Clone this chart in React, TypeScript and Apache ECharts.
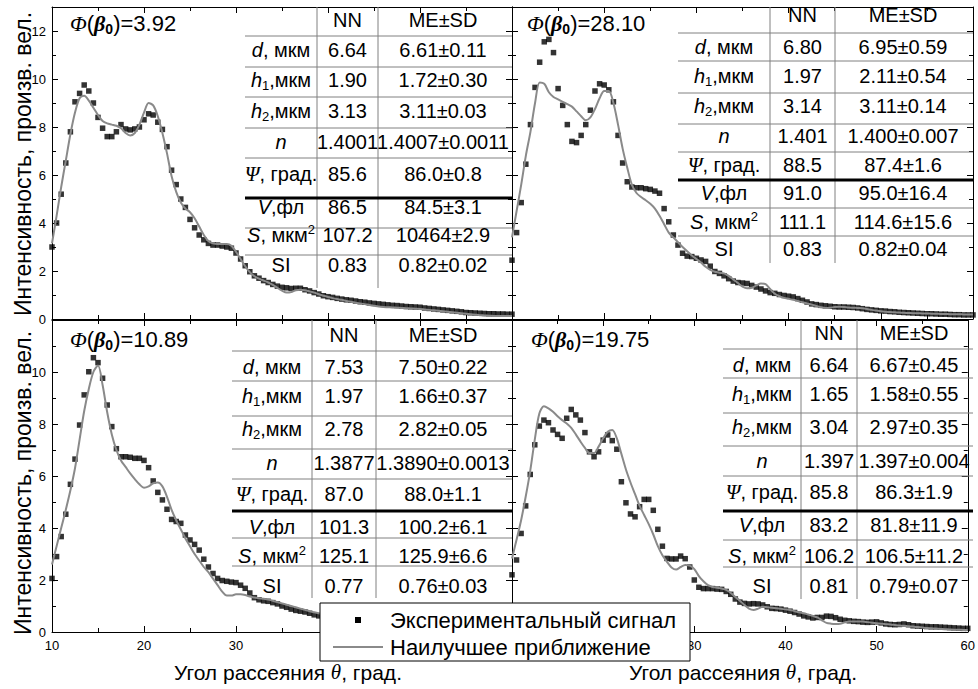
import React, { useEffect, useRef } from "react";
import * as echarts from "echarts";

const SANS = '"Liberation Sans", Arial, sans-serif';
const SERIF = '"Liberation Serif", "Times New Roman", serif';

// Scattering angles (deg)
const ANGLES = [
  10, 10.5, 11, 11.5, 12, 12.5, 13, 13.5, 14, 14.5,
  15, 15.5, 16, 16.5, 17, 17.5, 18, 18.5, 19, 19.5,
  20, 20.5, 21, 21.5, 22, 22.5, 23, 23.5, 24, 24.5,
  25, 25.5, 26, 26.5, 27, 27.5, 28, 28.5, 29, 29.5,
  30, 30.5, 31, 31.5, 32, 32.5, 33, 33.5, 34, 34.5,
  35, 35.5, 36, 36.5, 37, 37.5, 38, 38.5, 39, 39.5,
  40, 40.5, 41, 41.5, 42, 42.5, 43, 43.5, 44, 44.5,
  45, 45.5, 46, 46.5, 47, 47.5, 48, 48.5, 49, 49.5,
  50, 50.5, 51, 51.5, 52, 52.5, 53, 53.5, 54, 54.5,
  55, 55.5, 56, 56.5, 57, 57.5, 58, 58.5, 59, 59.5,
  60,
];

// Panel 1: Φ(β0)=3.92
const SIGNAL_1 = [
  3.0, 4.0, 5.2, 6.5, 7.8, 9.05, 9.4, 9.75, 9.5, 9.0,
  8.4, 7.95, 7.6, 7.6, 7.8, 8.1, 7.92, 7.88, 7.92, 8.0,
  8.3, 8.55, 8.5, 8.2, 7.9, 7.18, 6.2, 5.6, 5.0, 4.65,
  4.15, 3.8, 3.5, 3.3, 3.15, 3.08, 3.08, 3.04, 3.0, 2.95,
  2.75, 2.5, 2.22, 1.97, 1.8, 1.7, 1.6, 1.52, 1.44, 1.37,
  1.32, 1.3, 1.27, 1.28, 1.28, 1.22, 1.17, 1.1, 1.04, 0.97,
  0.93, 0.9, 0.86, 0.83, 0.8, 0.78, 0.75, 0.72, 0.7, 0.67,
  0.65, 0.63, 0.61, 0.59, 0.57, 0.56, 0.54, 0.52, 0.51, 0.5,
  0.49, 0.46, 0.44, 0.42, 0.4, 0.38, 0.36, 0.34, 0.32, 0.3,
  0.27, 0.26, 0.25, 0.24, 0.23, 0.22, 0.22, 0.21, 0.21, 0.2,
  0.2,
];
const FIT_1 = [
  3.15, 4.3, 5.5, 6.6, 7.7, 8.6, 9.2, 9.3, 9.1, 8.8,
  8.5, 8.25, 8.15, 8.1, 8.05, 7.95, 7.75, 7.65, 7.75, 8.1,
  8.6, 9.0, 8.9, 8.45, 7.75, 6.9, 5.95, 5.3, 4.85, 4.6,
  4.45, 4.2, 3.85, 3.5, 3.25, 3.15, 3.12, 3.12, 3.12, 3.05,
  2.8, 2.5, 2.2, 1.95, 1.78, 1.68, 1.6, 1.52, 1.42, 1.3,
  1.18, 1.1, 1.12, 1.2, 1.22, 1.2, 1.15, 1.1, 1.03, 0.97,
  0.92, 0.87, 0.83, 0.8, 0.75, 0.72, 0.68, 0.65, 0.62, 0.58,
  0.55, 0.52, 0.5, 0.49, 0.48, 0.47, 0.46, 0.45, 0.44, 0.43,
  0.42, 0.4, 0.38, 0.36, 0.34, 0.32, 0.3, 0.28, 0.26, 0.24,
  0.22, 0.2, 0.18, 0.16, 0.15, 0.14, 0.13, 0.12, 0.12, 0.12,
  0.12,
];

// Panel 2: Φ(β0)=28.10
const SIGNAL_2 = [
  2.45, 3.6, 4.85, 6.45, 8.1, 9.65, 10.7, 11.55, 11.65, 11.1,
  9.6, 8.9, 8.1, 7.4, 7.35, 7.65, 8.1, 8.7, 9.5, 9.8,
  9.75, 9.55, 9.05, 7.65, 6.5, 5.72, 5.5, 5.47, 5.47, 5.43,
  5.4, 5.33, 5.24, 4.6, 4.05, 3.5, 3.08, 2.74, 2.62, 2.6,
  2.53, 2.46, 2.4, 2.2, 1.98, 1.9, 1.8, 1.68, 1.58, 1.52,
  1.5, 1.48, 1.4, 1.33, 1.25, 1.17, 1.1, 1.07, 1.02, 0.98,
  0.95, 0.92, 0.85, 0.78, 0.71, 0.63, 0.6, 0.57, 0.55, 0.53,
  0.51, 0.5, 0.5, 0.49, 0.48, 0.46, 0.43, 0.4, 0.38, 0.36,
  0.34, 0.33, 0.31, 0.3, 0.28, 0.27, 0.26, 0.25, 0.24, 0.23,
  0.22, 0.22, 0.21, 0.2, 0.2, 0.19, 0.18, 0.18, 0.17, 0.17,
  0.17,
];
const FIT_2 = [
  3.4, 4.5, 5.6, 6.8, 7.8, 9.0, 9.85, 9.8, 9.45, 9.25,
  9.15, 9.05, 8.95, 8.85, 8.65, 8.45, 8.28, 8.4, 8.75, 9.2,
  9.5, 9.5, 9.0, 8.1, 7.1, 6.3, 5.6, 5.25, 5.08, 4.95,
  4.8, 4.6, 4.3, 3.95, 3.6, 3.4, 3.2, 3.0, 2.82, 2.65,
  2.5, 2.35, 2.18, 2.05, 1.97, 1.93, 1.9, 1.8, 1.65, 1.5,
  1.35, 1.28, 1.3, 1.4, 1.48, 1.45, 1.25, 1.05, 0.95, 0.88,
  0.84, 0.8, 0.75, 0.7, 0.65, 0.6, 0.54, 0.49, 0.46, 0.47,
  0.5, 0.51, 0.5, 0.48, 0.47, 0.46, 0.45, 0.42, 0.38, 0.35,
  0.32, 0.3, 0.29, 0.28, 0.27, 0.26, 0.25, 0.24, 0.24, 0.23,
  0.23, 0.22, 0.22, 0.21, 0.21, 0.2, 0.2, 0.2, 0.19, 0.19,
  0.19,
];

// Panel 3: Φ(β0)=10.89
const SIGNAL_3 = [
  2.06, 2.9, 3.67, 4.53, 5.68, 6.65, 7.96, 9.12, 10.01, 10.55,
  10.36, 9.76, 8.73, 7.9, 7.05, 6.74, 6.74, 6.72, 6.68, 6.68,
  6.6, 6.32, 5.81, 5.37, 5.08, 4.72, 4.33, 4.25, 4.18, 3.73,
  3.54, 3.37, 3.15, 2.8, 2.5, 2.25, 2.06, 1.98, 1.95, 1.92,
  1.9, 1.8, 1.68, 1.5, 1.32, 1.24, 1.2, 1.18, 1.13, 1.08,
  1.0, 0.95, 0.88, 0.83, 0.8, 0.77, 0.72, 0.66, 0.62, 0.6,
  0.58, 0.55, 0.53, 0.51, 0.49, 0.47, 0.45, 0.43, 0.41, 0.39,
  0.37, 0.35, 0.33, 0.32, 0.31, 0.3, 0.29, 0.28, 0.27, 0.26,
  0.25, 0.24, 0.23, 0.22, 0.21, 0.2, 0.19, 0.19, 0.18, 0.18,
  0.17, 0.17, 0.16, 0.16, 0.15, 0.15, 0.14, 0.14, 0.13, 0.13,
  0.12,
];
const FIT_3 = [
  2.6, 3.3, 4.0, 4.7, 5.45, 6.3, 7.4, 8.5, 9.35, 10.0,
  10.25, 9.5, 8.45, 7.6, 7.0, 6.6, 6.35, 6.1, 5.88, 5.68,
  5.55, 5.6, 5.72, 5.75, 5.6, 5.2, 4.7, 4.3, 3.95, 3.6,
  3.3, 3.0, 2.75, 2.5, 2.3, 2.05, 1.8, 1.55, 1.4, 1.4,
  1.45, 1.45, 1.42, 1.36, 1.33, 1.3, 1.28, 1.25, 1.2, 1.15,
  1.1, 1.05, 1.0, 0.95, 0.9, 0.85, 0.8, 0.76, 0.72, 0.68,
  0.65, 0.62, 0.59, 0.56, 0.53, 0.5, 0.48, 0.46, 0.44, 0.42,
  0.4, 0.38, 0.36, 0.34, 0.32, 0.3, 0.28, 0.27, 0.26, 0.25,
  0.24, 0.23, 0.22, 0.21, 0.2, 0.19, 0.18, 0.17, 0.16, 0.15,
  0.14, 0.13, 0.13, 0.12, 0.12, 0.11, 0.11, 0.1, 0.1, 0.1,
  0.1,
];

// Panel 4: Φ(β0)=19.75
const SIGNAL_4 = [
  2.2, 2.77, 3.79, 4.85, 6.06, 7.2, 7.92, 8.15, 8.05, 7.77,
  7.6, 7.45, 8.22, 8.56, 8.35, 8.15, 7.67, 6.93, 6.74, 6.93,
  7.38, 7.58, 7.36, 7.03, 5.78, 4.97, 4.54, 4.43, 4.82, 5.1,
  5.1, 4.68, 3.95, 3.3, 2.83, 2.81, 2.81, 2.92, 2.82, 2.5,
  2.0, 1.72, 1.67, 1.67, 1.67, 1.65, 1.64, 1.56, 1.45, 1.27,
  1.15, 1.1, 1.08, 1.09, 1.08, 1.04, 0.97, 0.91, 0.9, 0.88,
  0.84, 0.8, 0.75, 0.69, 0.62, 0.58, 0.54, 0.56, 0.56, 0.61,
  0.6, 0.55, 0.49, 0.45, 0.43, 0.41, 0.4, 0.38, 0.37, 0.38,
  0.39, 0.35, 0.31, 0.29, 0.28, 0.29, 0.31, 0.28, 0.24, 0.23,
  0.22, 0.21, 0.2, 0.2, 0.19, 0.18, 0.17, 0.16, 0.15, 0.14,
  0.14,
];
const FIT_4 = [
  2.83, 3.55, 4.3, 5.2, 6.2, 7.4, 8.4, 8.68, 8.6, 8.47,
  8.3, 8.15, 8.02, 7.85, 7.6, 7.33, 7.08, 6.88, 6.88, 7.13,
  7.45, 7.7, 7.77, 7.45, 6.85, 6.25, 5.75, 5.3, 4.85, 4.5,
  4.15, 3.75, 3.3, 2.95, 2.7, 2.48, 2.4, 2.5, 2.58, 2.55,
  2.42, 2.15, 1.95, 1.8, 1.73, 1.7, 1.67, 1.62, 1.5, 1.35,
  1.2, 1.04, 0.9, 0.85, 0.9, 0.97, 0.95, 0.93, 0.91, 0.89,
  0.87, 0.85, 0.8, 0.76, 0.72, 0.67, 0.62, 0.56, 0.45, 0.35,
  0.32, 0.31, 0.32, 0.37, 0.4, 0.4, 0.4, 0.4, 0.38, 0.36,
  0.34, 0.32, 0.3, 0.29, 0.27, 0.25, 0.24, 0.22, 0.21, 0.19,
  0.17, 0.15, 0.14, 0.13, 0.12, 0.11, 0.1, 0.09, 0.09, 0.08,
  0.08,
];

const PHI_VALUES = ["3.92", "28.10", "10.89", "19.75"];

const ROW_LABELS = [
  "{i|d}, мкм",
  "{i|h}{sub|1},мкм",
  "{i|h}{sub|2},мкм",
  "{i|n}",
  "{ps|Ψ}, град.",
  "{i|V},фл",
  "{i|S}, мкм{sup|2}",
  "SI",
];
const HEADER_NN = "NN";
const HEADER_ME = "ME±SD";

const NN_1 = ["6.64", "1.90", "3.13", "1.4001", "85.6", "86.5", "107.2", "0.83"];
const ME_1 = ["6.61±0.11", "1.72±0.30", "3.11±0.03", "1.4007±0.0011", "86.0±0.8", "84.5±3.1", "10464±2.9", "0.82±0.02"];
const NN_2 = ["6.80", "1.97", "3.14", "1.401", "88.5", "91.0", "111.1", "0.83"];
const ME_2 = ["6.95±0.59", "2.11±0.54", "3.11±0.14", "1.400±0.007", "87.4±1.6", "95.0±16.4", "114.6±15.6", "0.82±0.04"];
const NN_3 = ["7.53", "1.97", "2.78", "1.3877", "87.0", "101.3", "125.1", "0.77"];
const ME_3 = ["7.50±0.22", "1.66±0.37", "2.82±0.05", "1.3890±0.0013", "88.0±1.1", "100.2±6.1", "125.9±6.6", "0.76±0.03"];
const NN_4 = ["6.64", "1.65", "3.04", "1.397", "85.8", "83.2", "106.2", "0.81"];
const ME_4 = ["6.67±0.45", "1.58±0.55", "2.97±0.35", "1.397±0.004", "86.3±1.9", "81.8±11.9", "106.5±11.2", "0.79±0.07"];

// x tick labels visible in each lower panel (the rest sit under the legend)
const X_TICKS_LEFT = [10, 20, 30];
const X_TICKS_RIGHT = [30, 40, 50, 60];

const Y_TITLE = "Интенсивность, произв. вел.";
const X_TITLE = "Угол рассеяния {th|θ}, град.";
const LEGEND_SIGNAL = "Экспериментальный сигнал";
const LEGEND_FIT = "Наилучшее приближение";

const FIT_COLOR = "#8a8a8a";

const PANELS = [
  {
    left: 52, top: 7, width: 460, height: 312, yMax: 13, yLabelMax: 12, xTicks: [] as number[], yLabels: true,
    sig: SIGNAL_1, fit: FIT_1, phi: PHI_VALUES[0], phiX: 70, phiY: 23, nn: NN_1, me: ME_1,
    tbl: { x0: 245, c1: 317, c2: 378, x3: 512, mec: 443, top: 7, bottom: 288, lines: [36, 67, 97, 128, 158, 198, 228, 255], rows: [20, 50, 80, 111, 142, 174, 207, 235, 265] },
  },
  {
    left: 512, top: 7, width: 461, height: 312, yMax: 13, yLabelMax: 12, xTicks: [] as number[], yLabels: false,
    sig: SIGNAL_2, fit: FIT_2, phi: PHI_VALUES[1], phiX: 527, phiY: 23, nn: NN_2, me: ME_2,
    tbl: { x0: 678, c1: 770, c2: 835, x3: 973, mec: 903, top: 7, bottom: 263, lines: [33, 61, 93, 124, 152, 180, 208, 236], rows: [15, 47, 76, 106, 136, 165, 193, 222, 249] },
  },
  {
    left: 52, top: 320, width: 460, height: 312, yMax: 12, yLabelMax: 10, xTicks: X_TICKS_LEFT, yLabels: true,
    sig: SIGNAL_3, fit: FIT_3, phi: PHI_VALUES[2], phiX: 70, phiY: 339, nn: NN_3, me: ME_3,
    tbl: { x0: 232, c1: 312, c2: 376, x3: 512, mec: 443, top: 320, bottom: 598, lines: [351, 381, 416, 449, 479, 511, 538, 566], rows: [335, 367, 396, 429, 463, 494, 527, 556, 586] },
  },
  {
    left: 512, top: 320, width: 461, height: 312, yMax: 12, yLabelMax: 10, xTicks: X_TICKS_RIGHT, yLabels: false,
    sig: SIGNAL_4, fit: FIT_4, phi: PHI_VALUES[3], phiX: 531, phiY: 339, nn: NN_4, me: ME_4,
    tbl: { x0: 723, c1: 801, c2: 857, x3: 973, mec: 914, top: 320, bottom: 599, lines: [349, 378, 413, 446, 476, 511, 540, 567], rows: [333, 365, 394, 427, 461, 492, 525, 556, 586] },
  },
];

const TABLE_FONT = 20;
const TABLE_RICH = {
  i: { fontFamily: SANS, fontStyle: "italic", fontSize: TABLE_FONT, lineHeight: 26, fill: "#000" },
  ps: { fontFamily: SERIF, fontStyle: "italic", fontSize: 21, lineHeight: 26, fill: "#000" },
  sub: { fontFamily: SANS, fontSize: 13, padding: [11, 0, 0, 0], fill: "#000" },
  sup: { fontFamily: SANS, fontSize: 13, padding: [0, 0, 11, 0], fill: "#000" },
};
const PHI_RICH = {
  phi: { fontFamily: SERIF, fontStyle: "italic", fontSize: 22, lineHeight: 28, fill: "#000" },
  b: { fontFamily: SERIF, fontStyle: "italic", fontWeight: "bold", fontSize: 22, lineHeight: 28, fill: "#000" },
  s: { fontFamily: SANS, fontWeight: "bold", fontSize: 14, padding: [12, 0, 0, 0], fill: "#000" },
  t: { fontFamily: SANS, fontSize: 22, lineHeight: 28, fill: "#000" },
};

function txt(x: number, y: number, text: string) {
  return {
    type: "text",
    x,
    y,
    z: 60,
    silent: true,
    style: {
      text,
      fill: "#000",
      fontFamily: SANS,
      fontSize: TABLE_FONT,
      lineHeight: 26,
      align: "center",
      verticalAlign: "middle",
      rich: TABLE_RICH,
    },
  };
}

function hline(x1: number, x2: number, y: number, color: string, w: number) {
  return { type: "line", z: 55, silent: true, shape: { x1, y1: y, x2, y2: y }, style: { stroke: color, lineWidth: w } };
}
function vline(x: number, y1: number, y2: number, color: string, w: number) {
  return { type: "line", z: 55, silent: true, shape: { x1: x, y1, x2: x, y2 }, style: { stroke: color, lineWidth: w } };
}

function buildOption() {
  const grid: any[] = [];
  const xAxis: any[] = [];
  const yAxis: any[] = [];
  const series: any[] = [];
  const elements: any[] = [];
  const line = { color: "#000", width: 1 };

  PANELS.forEach((p, i) => {
    grid.push({ left: p.left, top: p.top, width: p.width, height: p.height });
    const baseX = {
      type: "value", gridIndex: i, min: 10, max: 60, interval: 10,
      axisLine: { show: true, onZero: false, lineStyle: line },
      axisTick: { show: true, inside: true, length: 6, lineStyle: line },
      minorTick: { show: true, splitNumber: 2, length: 4, lineStyle: line },
      splitLine: { show: false },
    };
    xAxis.push({
      ...baseX, position: "bottom",
      axisLabel: {
        show: p.xTicks.length > 0, color: "#000", fontSize: 13, fontFamily: SANS, margin: 7,
        showMinLabel: true, showMaxLabel: true,
        formatter: (v: number) => (p.xTicks.indexOf(v) >= 0 ? String(v) : ""),
      },
    });
    xAxis.push({ ...baseX, position: "top", axisLabel: { show: false } });
    const baseY = {
      type: "value", gridIndex: i, min: 0, max: p.yMax, interval: 2,
      axisLine: { show: true, onZero: false, lineStyle: line },
      axisTick: { show: true, inside: true, length: 6, lineStyle: line },
      minorTick: { show: true, splitNumber: 2, length: 4, lineStyle: line },
      splitLine: { show: false },
    };
    yAxis.push({
      ...baseY, position: "left",
      axisLabel: {
        show: p.yLabels, color: "#000", fontSize: 13, fontFamily: SANS, margin: 6,
        formatter: (v: number) => (v > p.yLabelMax ? "" : String(v)),
      },
    });
    yAxis.push({ ...baseY, position: "right", axisLabel: { show: false } });

    series.push({
      type: "scatter", name: LEGEND_SIGNAL, xAxisIndex: 2 * i, yAxisIndex: 2 * i,
      data: ANGLES.map((a, k) => [a, p.sig[k]]),
      symbol: "rect", symbolSize: 5.5, itemStyle: { color: "#000" }, z: 2, silent: true,
    });
    series.push({
      type: "line", name: LEGEND_FIT, xAxisIndex: 2 * i, yAxisIndex: 2 * i,
      data: ANGLES.map((a, k) => [a, p.fit[k]]),
      showSymbol: false, smooth: 0.3, lineStyle: { color: FIT_COLOR, width: 2 }, z: 3, silent: true,
    });

    // Φ(β0) label
    elements.push({
      type: "text", x: p.phiX, y: p.phiY, z: 60, silent: true,
      style: {
        text: `{phi|Φ}{t|(}{b|β}{s|0}{t|)=${p.phi}}`,
        rich: PHI_RICH, align: "left", verticalAlign: "middle", fill: "#000",
      },
    });

    // Table
    const t = p.tbl;
    const gray = "#808080";
    elements.push(vline(t.c1, t.top, t.bottom, gray, 1));
    elements.push(vline(t.c2, t.top, t.bottom, gray, 1));
    t.lines.forEach((y, k) => {
      if (k === 5) elements.push(hline(t.x0, t.x3, y, "#000", 3));
      else elements.push(hline(t.x0, t.x3, y, gray, 1));
    });
    const lc = (t.x0 + t.c1) / 2;
    const nc = (t.c1 + t.c2) / 2;
    const mc = t.mec;
    elements.push(txt(nc, t.rows[0], HEADER_NN));
    elements.push(txt(mc, t.rows[0], HEADER_ME));
    ROW_LABELS.forEach((lab, k) => {
      const y = t.rows[k + 1];
      elements.push(txt(lc, y, lab));
      elements.push(txt(nc, y, p.nn[k]));
      elements.push(txt(mc, y, p.me[k]));
    });
  });

  // Axis titles
  [164, 483].forEach((y) => {
    elements.push({
      type: "text", x: 23, y, rotation: Math.PI / 2, z: 60, silent: true,
      style: { text: Y_TITLE, fill: "#000", fontFamily: SANS, fontSize: 23, align: "center", verticalAlign: "middle" },
    });
  });
  [288, 743].forEach((x) => {
    elements.push({
      type: "text", x, y: 672, z: 60, silent: true,
      style: {
        text: X_TITLE, fill: "#000", fontFamily: SANS, fontSize: 21, align: "center", verticalAlign: "middle",
        rich: { th: { fontFamily: SERIF, fontStyle: "italic", fontSize: 21, fill: "#000" } },
      },
    });
  });

  // Legend
  elements.push({
    type: "rect", z: 100, silent: true,
    shape: { x: 320, y: 603, width: 370, height: 58 },
    style: { fill: "#fff", stroke: "#000", lineWidth: 1 },
  });
  elements.push({
    type: "rect", z: 101, silent: true,
    shape: { x: 355, y: 617, width: 6, height: 6 },
    style: { fill: "#000" },
  });
  elements.push({
    type: "line", z: 101, silent: true,
    shape: { x1: 333, y1: 647, x2: 383, y2: 647 },
    style: { stroke: FIT_COLOR, lineWidth: 2 },
  });
  elements.push({
    type: "text", x: 390, y: 620, z: 101, silent: true,
    style: { text: LEGEND_SIGNAL, fill: "#000", fontFamily: SANS, fontSize: 22, align: "left", verticalAlign: "middle" },
  });
  elements.push({
    type: "text", x: 390, y: 647, z: 101, silent: true,
    style: { text: LEGEND_FIT, fill: "#000", fontFamily: SANS, fontSize: 22, align: "left", verticalAlign: "middle" },
  });

  return {
    animation: false,
    backgroundColor: "#fff",
    grid,
    xAxis,
    yAxis,
    series,
    graphic: { elements },
  };
}

export default function App() {
  const ref = useRef<HTMLDivElement>(null);
  useEffect(() => {
    if (!ref.current) return;
    const chart = echarts.init(ref.current, null, { renderer: "svg" });
    chart.setOption(buildOption() as any);
    return () => chart.dispose();
  }, []);
  return (
    <div
      ref={ref}
      style={{ position: "fixed", left: 0, top: 0, width: 978, height: 689, background: "#fff" }}
    />
  );
}
